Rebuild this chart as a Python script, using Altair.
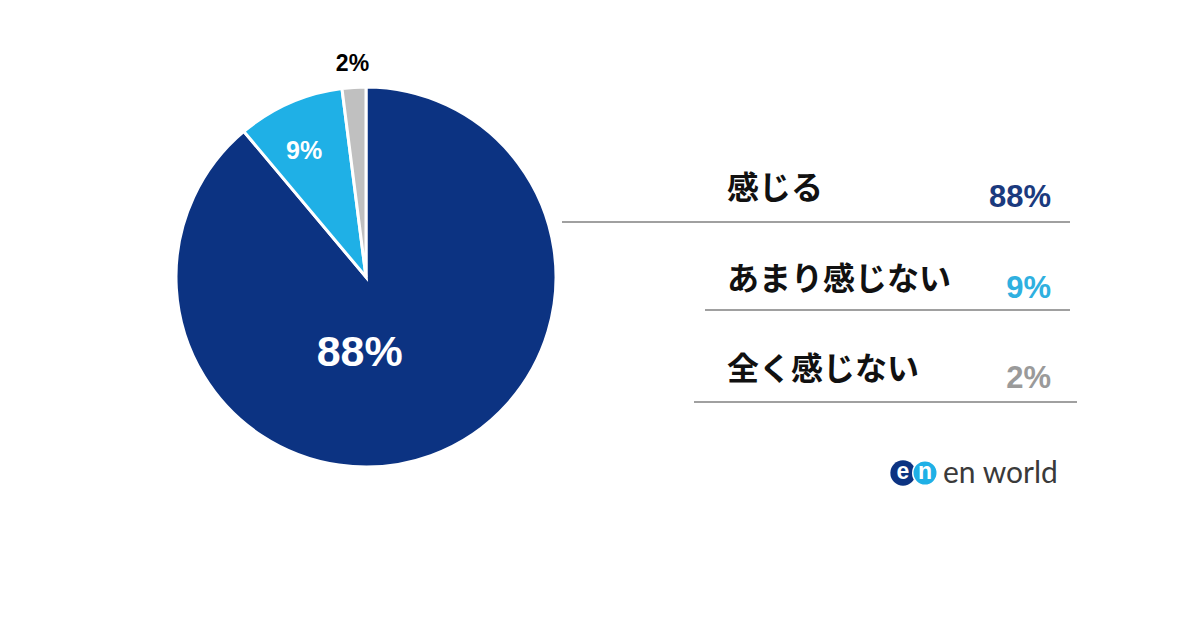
import altair as alt
import pandas as pd

categories = ["感じる", "あまり感じない", "全く感じない"]
values = [88, 9, 2]
labels = ["88%", "9%", "2%"]
order = [0, 1, 2]

slice_colors = ["#0c3382", "#1fb0e6", "#c0c0c0"]
text_colors = ["#1b3a7e", "#2fb0e0", "#9a9a9a"]

df = pd.DataFrame({"category": categories, "value": values, "label": labels, "idx": order})
one = pd.DataFrame({"k": [0]})

CX, CY, R = 358, 269, 190
JP = "Noto Sans CJK JP"
NUM = "Liberation Sans"

base = alt.Chart(df)
theta = alt.Theta("value:Q", stack=True)
ordr = alt.Order("idx:Q")

pie = base.mark_arc(radius=R, stroke="white", strokeWidth=3).encode(
    theta=theta,
    order=ordr,
    color=alt.Color("category:N", scale=alt.Scale(domain=categories, range=slice_colors), legend=None),
    x=alt.value(CX), y=alt.value(CY),
)

def pie_label(cat, radius, size, color, dx=0, dy=0):
    return base.mark_text(
        radius=radius, fontSize=size, fontWeight="bold", font=NUM, fill=color,
        align="center", baseline="middle", dx=dx, dy=dy,
    ).encode(
        theta=theta, order=ordr,
        text=alt.condition(alt.datum.category == cat, "label:N", alt.value("")),
        x=alt.value(CX), y=alt.value(CY),
    )

l88 = pie_label("感じる", 81, 43, "white", dx=-34)
l9 = pie_label("あまり感じない", 137, 25, "white", dx=-7)
l2 = pie_label("全く感じない", 213, 23, "black")

yscale = alt.Scale(domain=categories, range=[181, 362], padding=0)

names = base.mark_text(font=JP, fontSize=32, fontWeight="bold", align="left", baseline="middle", color="#111111").encode(
    x=alt.value(719),
    y=alt.Y("category:N", scale=yscale, axis=None),
    text="category:N",
)

pcts = base.mark_text(font=NUM, fontSize=31, fontWeight="bold", align="right", baseline="middle", dy=9).encode(
    x=alt.value(1043),
    y=alt.Y("category:N", scale=yscale, axis=None),
    text="label:N",
    color=alt.Color("category:N", scale=alt.Scale(domain=categories, range=text_colors), legend=None),
)

def rule(x1, x2, y):
    return alt.Chart(one).mark_rule(color="#a0a0a0", strokeWidth=2).encode(
        x=alt.value(x1), x2=alt.value(x2), y=alt.value(y)
    )

rules = [rule(554, 1062, 214), rule(697, 1062, 302), rule(686, 1069, 394)]

logo_e = alt.Chart(one).mark_point(shape="circle", filled=True, opacity=1, size=640, color="#0c3382").encode(
    x=alt.value(895), y=alt.value(465))
logo_n = alt.Chart(one).mark_point(shape="circle", filled=True, opacity=1, size=600, color="#1fb0e6",
                                   stroke="white", strokeWidth=1.5).encode(
    x=alt.value(917), y=alt.value(465))
logo_et = alt.Chart(one).mark_text(text="e", font=NUM, fontWeight="bold", fontSize=23, color="white",
                                   align="center", baseline="middle").encode(x=alt.value(895), y=alt.value(464))
logo_nt = alt.Chart(one).mark_text(text="n", font=NUM, fontWeight="bold", fontSize=23, color="white",
                                   align="center", baseline="middle").encode(x=alt.value(917), y=alt.value(464))
logo_txt = alt.Chart(one).mark_text(text="en world", font="Lato", fontSize=30, color="#3a3a3a",
                                    align="left", baseline="alphabetic").encode(x=alt.value(935), y=alt.value(475))

chart = alt.layer(
    pie, l88, l9, l2, names, pcts, *rules, logo_e, logo_n, logo_et, logo_nt, logo_txt
).resolve_scale(color="independent").properties(
    width=1184, height=605, autosize="none", padding=0, background="white"
).configure_view(stroke=None)

chart.save("out.html", embed_options={"renderer": "svg", "actions": False})
